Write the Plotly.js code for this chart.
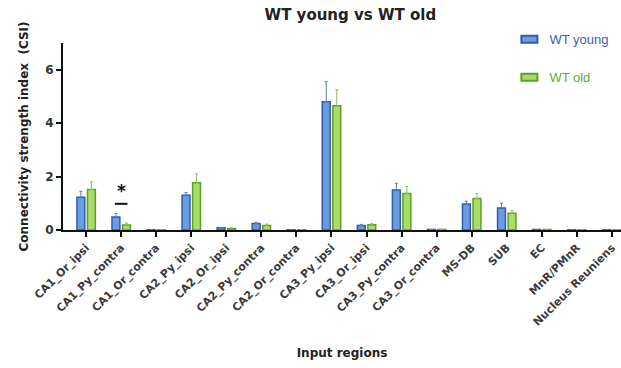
<!DOCTYPE html>
<html>
<head>
<meta charset="utf-8">
<script src="https://cdn.plot.ly/plotly-3.0.1.min.js"></script>
<style>html,body{margin:0;padding:0;background:#fff;}#chart{width:621px;height:368px;}</style>
</head>
<body>
<div id="chart"></div>
<script>
const categories = ["CA1_Or_ipsi","CA1_Py_contra","CA1_Or_contra","CA2_Py_ipsi","CA2_Or_ipsi","CA2_Py_contra","CA2_Or_contra","CA3_Py_ipsi","CA3_Or_ipsi","CA3_Py_contra","CA3_Or_contra","MS-DB","SUB","EC","MnR/PMnR","Nucleus Reuniens"];
const youngMean = [1.23, 0.49, 0.01, 1.30, 0.08, 0.24, 0.01, 4.80, 0.17, 1.50, 0.02, 0.97, 0.82, 0.02, 0.01, 0.01];
const youngErr  = [0.22, 0.13, 0.00, 0.10, 0.02, 0.04, 0.00, 0.75, 0.04, 0.25, 0.00, 0.11, 0.18, 0.00, 0.00, 0.00];
const oldMean   = [1.52, 0.19, 0.01, 1.77, 0.06, 0.17, 0.01, 4.65, 0.20, 1.37, 0.02, 1.18, 0.63, 0.02, 0.01, 0.01];
const oldErr    = [0.28, 0.07, 0.00, 0.33, 0.02, 0.05, 0.00, 0.60, 0.05, 0.26, 0.00, 0.19, 0.09, 0.00, 0.00, 0.00];
const yTicks = [0, 2, 4, 6];

const zeros = youngMean.map(() => 0);
const BOLD = "DejaVu Sans, sans-serif";
const REG = "Liberation Sans, Arial, sans-serif";

const traces = [
  {
    type: "bar", name: "WT young", x: categories, y: youngMean,
    legendgroup: "a",
    marker: { color: "#6b9be0", line: { color: "#2e5ea8", width: 1.5 } },
    error_y: { type: "data", symmetric: false, array: youngErr, arrayminus: zeros,
               color: "#5a7fb8", thickness: 1, width: 1.5 }
  },
  {
    type: "bar", name: "WT old", x: categories, y: oldMean,
    legendgroup: "b",
    marker: { color: "#a9dc6a", line: { color: "#5ea024", width: 1.5 } },
    error_y: { type: "data", symmetric: false, array: oldErr, arrayminus: zeros,
               color: "#8cbf5a", thickness: 1, width: 1.5 }
  }
];

const layout = {
  width: 621, height: 368,
  margin: { l: 63, r: 0, t: 43, b: 138 },
  paper_bgcolor: "#fff", plot_bgcolor: "#fff",
  font: { family: BOLD, color: "#222" },
  barmode: "group", bargap: 0.4, bargroupgap: 0.25,
  showlegend: true,
  title: { text: "<b>WT young vs WT old</b>", font: { size: 15, color: "#222", family: BOLD },
           x: 0.515, xref: "paper", xanchor: "center", y: 0.96, yref: "container", yanchor: "middle" },
  legend: { x: 0.80, xanchor: "left", y: 1.1, yanchor: "top", tracegroupgap: 18,
            font: { size: 13, family: REG }, bgcolor: "rgba(0,0,0,0)" },
  xaxis: {
    type: "category", range: [-0.66, 15.26], autorange: false,
    showline: true, linecolor: "#111", linewidth: 2,
    ticks: "outside", ticklen: 5, tickwidth: 2, tickcolor: "#111",
    tickangle: -45, tickfont: { size: 11, family: BOLD, color: "#3a3a3a", weight: "bold" },
    showgrid: false, zeroline: false,
    title: { text: "<b>Input regions</b>", font: { size: 12, color: "#222", family: BOLD }, standoff: 21 }
  },
  yaxis: {
    range: [0, 7], autorange: false,
    tickvals: yTicks, ticktext: yTicks.map(String),
    showline: true, linecolor: "#111", linewidth: 2,
    ticks: "outside", ticklen: 5, tickwidth: 2, tickcolor: "#111",
    tickfont: { size: 12, family: BOLD, color: "#333", weight: "bold" },
    showgrid: false, zeroline: false,
    title: { text: "<b>Connectivity strength index  (CSI)</b>", font: { size: 12, color: "#222", family: BOLD }, standoff: 14 }
  },
  shapes: [
    { type: "line", xref: "x", yref: "y", x0: 0.82, x1: 1.18, y0: 0.98, y1: 0.98,
      line: { color: "#111", width: 2 } }
  ],
  annotations: [
    { xref: "x", yref: "y", x: 1, y: 1.45, text: "<b>*</b>", showarrow: false,
      font: { size: 17, color: "#111", family: BOLD } }
  ]
};

Plotly.newPlot("chart", traces, layout, { displayModeBar: false, staticPlot: true }).then(() => {
  const texts = document.querySelectorAll(".legendtext");
  if (texts[0]) texts[0].style.fill = "#3a62aa";
  if (texts[1]) texts[1].style.fill = "#66a832";
  document.querySelectorAll(".legendpoints path").forEach(p => {
    p.setAttribute("d", "M-8,-3.5h16v7h-16Z");
    p.style.strokeWidth = "2px";
  });
});
</script>
</body>
</html>
